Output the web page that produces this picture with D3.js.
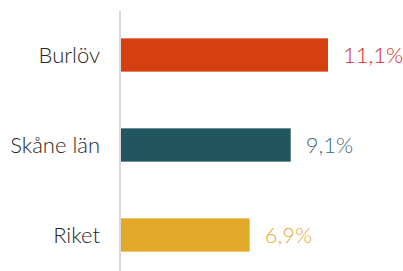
<!DOCTYPE html>
<html>
<head>
    <meta charset="utf-8">
    <title>Burlöv, Skåne län, Riket</title>
    <style>
        body { margin: 0; background: #fff; }
        svg { display: block; }
    </style>
    <script src="https://cdn.jsdelivr.net/npm/d3@7"></script>
</head>
<body>
<script>

    var categories = ['Burlöv', 'Skåne län', 'Riket']
    var values = [11.1, 9.1, 6.9]
    var valueLabels = ['11,1%', '9,1%', '6,9%']
    var barColors = ['#d63f10', '#22565e', '#e4a829']
    var labelColors = ['#d42a2a', '#3f6c72', '#e8a93a']

    var view_width = 403,
        view_height = 271,
        axis_x = 120

    var svg = d3.select('body').append('svg')
        .attr('width', view_width)
        .attr('height', view_height)

    var x = d3.scaleLinear()
        .domain([0, 11.1])
        .range([axis_x + 1, 328])

    var y = d3.scaleBand()
        .domain(categories)
        .range([10, 280])
        .paddingInner(0.63)
        .paddingOuter(0.315)

    svg.selectAll('rect.bar')
        .data(values)
        .enter().append('rect')
        .attr('class', 'bar')
        .attr('x', x(0))
        .attr('y', function (d, i) { return y(categories[i]) })
        .attr('width', function (d) { return x(d) - x(0) })
        .attr('height', y.bandwidth())
        .attr('fill', function (d, i) { return barColors[i] })

    svg.append('line')
        .attr('x1', axis_x)
        .attr('y1', 11)
        .attr('x2', axis_x)
        .attr('y2', view_height)
        .attr('stroke', '#d9d9d9')
        .attr('stroke-width', 2)

    svg.selectAll('text.cat')
        .data(categories)
        .enter().append('text')
        .attr('class', 'cat')
        .attr('x', 100)
        .attr('y', function (d) { return y(d) + y.bandwidth() / 2 })
        .attr('dy', '0.36em')
        .attr('text-anchor', 'end')
        .attr('font-family', 'Lato, sans-serif')
        .attr('font-weight', 300)
        .attr('font-size', 22)
        .attr('fill', '#262626')
        .text(function (d) { return d })

    svg.selectAll('text.val')
        .data(values)
        .enter().append('text')
        .attr('class', 'val')
        .attr('x', function (d) { return x(d) + 15 })
        .attr('y', function (d, i) { return y(categories[i]) + y.bandwidth() / 2 })
        .attr('dy', '0.36em')
        .attr('font-family', 'Lato, sans-serif')
        .attr('font-weight', 300)
        .attr('font-size', 22)
        .attr('fill', function (d, i) { return labelColors[i] })
        .text(function (d, i) { return valueLabels[i] })

</script>
</body>
</html>
